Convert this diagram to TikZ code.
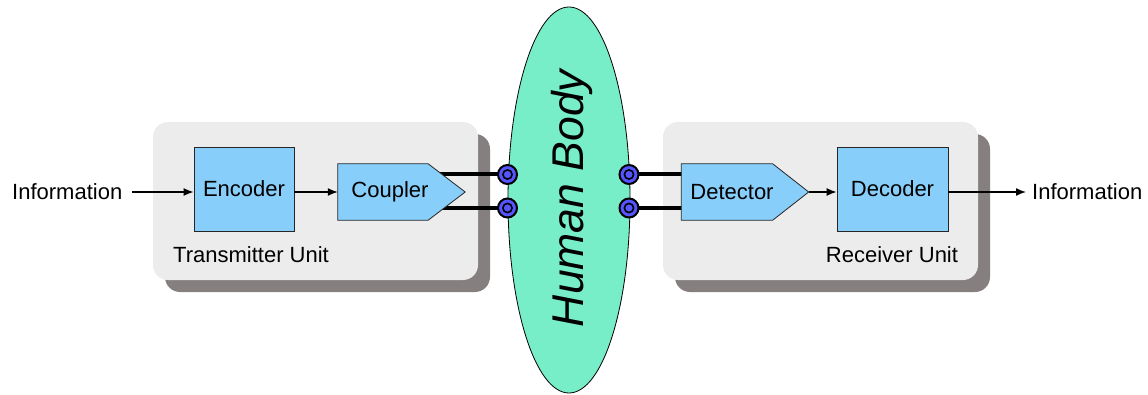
\documentclass[tikz,border=0pt]{standalone}
\usepackage{fontspec}
\setmainfont{Liberation Sans}
\usetikzlibrary{arrows.meta,shapes.geometric,calc}
\definecolor{unitgray}{RGB}{236,236,236}
\definecolor{shadowgray}{RGB}{133,127,127}
\definecolor{blockblue}{RGB}{135,206,250}
\definecolor{bodygreen}{RGB}{119,238,200}
\definecolor{portblue}{RGB}{85,85,255}
\pgfdeclarelayer{back}
\pgfdeclarelayer{mid}
\pgfdeclarelayer{blk}
\pgfsetlayers{back,mid,blk,main}
\tikzset{
  unitbox/.style={fill=unitgray, rounded corners=15pt, minimum width=#1, minimum height=158pt, inner sep=0pt},
  unitshadow/.style={fill=shadowgray, rounded corners=15pt, minimum width=#1, minimum height=158pt, inner sep=0pt},
  block/.style={draw=black!85, line width=0.8pt, fill=blockblue, inner sep=0pt, font=\fontsize{22}{26}\selectfont},
  sigblock/.style={inner sep=0pt, minimum width=127pt, minimum height=56pt, font=\fontsize{22}{26}\selectfont},
  sigfill/.style={draw=black!85, line width=0.8pt, fill=blockblue},
  lbl/.style={font=\fontsize{22}{26}\selectfont, inner sep=0pt},
  port/.style={circle, draw=black, line width=2pt, fill=portblue, minimum size=19pt, inner sep=0pt,
    path picture={\draw[black, line width=1.6pt, fill=portblue] (path picture bounding box.center) circle (4.6pt);}},
  wire/.style={line width=4pt, black},
  arr/.style={line width=1.4pt, -{Latex[length=10pt,width=8pt]}},
}
\begin{document}
\begin{tikzpicture}[x=1pt,y=1pt]
\useasboundingbox (0,0) rectangle (1148,394);
\begin{pgfonlayer}{back}
  \node[unitshadow=325pt] (txs) at (327.5,181) {};
  \node[unitbox=325pt] (tx) at (315.5,193) {};
  \node[unitshadow=315pt] (rxs) at (832.5,181) {};
  \node[unitbox=315pt] (rx) at (820.5,193) {};
\end{pgfonlayer}
\node[ellipse, draw=black, line width=0.8pt, fill=bodygreen, minimum width=122pt, minimum height=386pt, inner sep=0pt] (body) at (569,194) {};
\node[rotate=90, font=\fontsize{44.5}{48}\selectfont\itshape, inner sep=0pt] (bodylbl) at (572,195.5) {Human Body};

\node[lbl, anchor=west] (infoin) at (12,202) {Information};
\node[block, minimum width=100pt, minimum height=84pt] (enc) at (244,205) {Encoder};
\node[sigblock] (coup) at (401.5,202) {\hspace*{-23pt}Coupler};
\node[sigblock] (det) at (745,202) {\hspace*{-26pt}Detector};
\node[block, minimum width=111pt, minimum height=84pt] (dec) at (892.5,205) {Decoder};
\node[lbl, anchor=west] (infoout) at (1032,202) {Information};
\node[lbl] (txlbl) at (251,139) {Transmitter Unit};
\node[lbl] (rxlbl) at (892,139) {Receiver Unit};

\begin{pgfonlayer}{blk}
  \draw[sigfill] (coup.north west) -- ($(coup.north east)+(-37,0)$) -- (coup.east) -- ($(coup.south east)+(-37,0)$) -- (coup.south west) -- cycle;
  \draw[sigfill] (det.north west) -- ($(det.north east)+(-36,0)$) -- (det.east) -- ($(det.south east)+(-36,0)$) -- (det.south west) -- cycle;
\end{pgfonlayer}

\node[port] (p1) at (507.5,219.5) {};
\node[port] (p2) at (507.5,186) {};
\node[port] (p3) at (629,219.5) {};
\node[port] (p4) at (629,186) {};

\begin{pgfonlayer}{mid}
  \draw[wire] (p1.center) -- (p1.center -| coup.center);
  \draw[wire] (p2.center) -- (p2.center -| coup.center);
  \draw[wire] (p3.center) -- (p3.center -| det.center);
  \draw[wire] (p4.center) -- (p4.center -| det.center);
\end{pgfonlayer}

\draw[arr] (infoin.east) ++(10,0) -- (infoin.east -| enc.west);
\draw[arr] (enc.east |- coup.center) -- (coup.west);
\draw[arr] (det.east) -- (det.east -| dec.west);
\draw[arr] (dec.east |- infoout.west) -- ($(infoout.west)+(-6,0)$);
\end{tikzpicture}
\end{document}
